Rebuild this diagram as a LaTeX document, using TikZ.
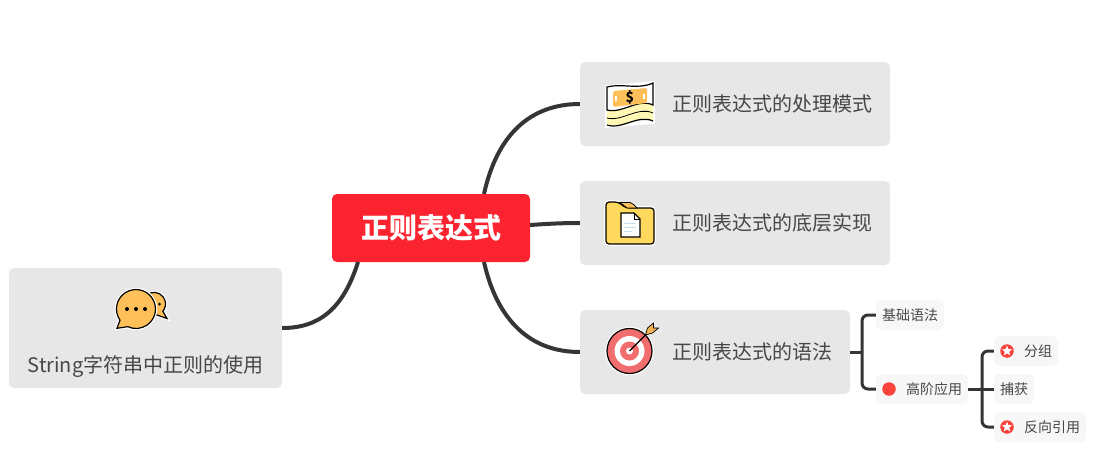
\documentclass[tikz,border=0pt]{standalone}
\usepackage{fontspec}
\setmainfont{Noto Sans CJK SC}
\usetikzlibrary{calc,positioning,shapes.geometric}
\definecolor{linegray}{HTML}{353535}
\definecolor{boxgray}{HTML}{E7E7E7}
\definecolor{subgray}{HTML}{F7F7F7}
\definecolor{rootred}{HTML}{FC2330}
\definecolor{dotred}{HTML}{FB423B}
\definecolor{billorange}{HTML}{FFC05A}
\definecolor{billyellow}{HTML}{FFF8B4}
\definecolor{folderyellow}{HTML}{FFD95E}
\definecolor{ringred}{HTML}{F26D6D}
\tikzset{%
	root/.style     = {fill=rootred, rounded corners=5pt, text=white, font=\fontsize{28}{32}\selectfont\bfseries, minimum width=198pt, minimum height=68pt, inner sep=0pt},
	mainbox/.style  = {fill=boxgray, rounded corners=5pt, text=black!72, font=\fontsize{20}{24}\selectfont, minimum height=84pt, inner sep=0pt},
	subbox/.style   = {fill=subgray, rounded corners=5pt, text=black!72, font=\fontsize{14}{17}\selectfont, minimum height=30pt, inner xsep=6pt, inner ysep=0pt},
	waypoint/.style = {coordinate},
	branch/.style   = {draw=linegray, line width=4pt},
	twig/.style     = {draw=linegray, line width=3pt, rounded corners=6pt},
	reddot/.style   = {circle, fill=dotred, minimum size=13.5pt, inner sep=0pt},
	whitestar/.style = {star, star points=5, star point ratio=2.2, fill=white, minimum size=10.5pt, inner sep=0pt},
	icon/.style     = {draw=black, line width=1.2pt, preaction={draw=white, line width=3.6pt}},
}
\begin{document}
\begin{tikzpicture}[x=1pt,y=-1pt,node distance=100pt]
	\useasboundingbox (0,0) rectangle (1116,455);
	\node [root] (rex) at (431,228) {正则表达式};
	\node [mainbox,minimum width=310pt] (mode) at (735,104) {\hspace*{74pt}正则表达式的处理模式};
	\node [mainbox,minimum width=310pt] (impl) [below of=mode,node distance=119pt] {\hspace*{74pt}正则表达式的底层实现};
	\node [mainbox,minimum width=270pt] (gram) at (715,352) {\hspace*{74pt}正则表达式的语法};
	\node [mainbox,minimum width=273pt,text height=104pt,text depth=16pt] (str) at (145.5,328) {String字符串中正则的使用};

	\node [waypoint] (hubgram) [right of=gram,node distance=147pt] {};
	\node [subbox] (basic) at (910,315) {基础语法};
	\node [subbox] (adv) at (922,389) {\hspace*{24pt}高阶应用};
	\node [waypoint] (hubadv) [right of=adv,node distance=60pt] {};
	\node [subbox] (group) at (1026,351) {\hspace*{24pt}分组};
	\node [subbox] (capt) at (1014,389) {捕获};
	\node [subbox] (back) at (1040,427) {\hspace*{24pt}反向引用};
	\node [reddot] (advdot) at (889,389) {};
	\node [reddot] (groupdot) at (1007,351) {};
	\node [whitestar] (groupstar) at (groupdot) {};
	\node [reddot] (backdot) at (1007,427) {};
	\node [whitestar] (backstar) at (backdot) {};

	\node [waypoint] (rexup) at (484,194) {};
	\node [waypoint] (rexright) at (530,225) {};
	\node [waypoint] (rexdown) at (484,262) {};
	\node [waypoint] (rexleft) at (358,262) {};

	\draw[branch] (rexup) .. controls (497,135) and (530,104) .. (mode.west);
	\draw[branch] (rexright) .. controls (545,224) and (560,223) .. (impl.west);
	\draw[branch] (rexdown) .. controls (497,320) and (530,352) .. (gram.west);
	\draw[branch] (rexleft) .. controls (343,310) and (318,328) .. (str.east);

	\draw[twig] (gram.east) -- (hubgram);
	\draw[twig] (hubgram) |- (basic.west);
	\draw[twig] (hubgram) |- (adv.west);
	\draw[twig] (adv.east) -- (hubadv);
	\draw[twig] (hubadv) |- (group.west);
	\draw[twig] (hubadv) -- (capt.west);
	\draw[twig] (hubadv) |- (back.west);

	% bill
	\begin{scope}[shift={(630,104)}]
	\path[draw=white,line width=3.6pt] (-23,-17) -- (23,-21) -- (23,18) -- (-23,22) -- cycle;
	\path[fill=billyellow] (-23,6) .. controls (-8,10) and (8,-6) .. (23,1) -- (23,17) .. controls (8,10) and (-8,26) .. (-23,21) -- cycle;
	\path[fill=white,draw=black,line width=1.2pt] (-23,-17) .. controls (-8,-21) and (8,-14) .. (23,-21) -- (23,1) .. controls (8,-6) and (-8,10) .. (-23,6) -- cycle;
	\fill[billorange,rounded corners=2pt] (-17,-13) -- (17,-16) -- (17,-1) -- (-17,3) -- cycle;
	\fill[white] (-15,-8) rectangle (-13,-3);
	\fill[white] (13,-10) rectangle (15,-5);
	\node[font=\fontsize{14}{14}\selectfont\bfseries,text=black,inner sep=0pt] (dollar) at (0,-6.5) {\$};
	\draw[black,line width=0.8pt] (-23,14) .. controls (-8,18) and (8,2) .. (23,9);
	\draw[black,line width=1.2pt] (-23,21) .. controls (-8,26) and (8,10) .. (23,17);
	\end{scope}

	% folder
	\begin{scope}[shift={(630,223)}]
	\path[icon,fill=folderyellow,rounded corners=3pt] (-24,-21) -- (-12,-21) -- (-4,-15) -- (24,-15) -- (24,21) -- (-24,21) -- cycle;
	\path[fill=billorange,draw=black,line width=0.8pt] (-10,-20.5) -- (0,-20.5) .. controls (3,-20) and (5,-17) .. (7,-15) -- (-3,-15) -- cycle;
	\path[draw=black,line width=1.2pt,fill=white] (-9,-10) -- (4,-10) -- (10,-4) -- (10,14) -- (-9,14) -- cycle;
	\draw[black,line width=0.8pt] (4,-10) -- (4,-4) -- (10,-4);
	\draw[black!25!cyan!25,line width=1pt] (-6,0) -- (6,0) (-6,4) -- (6,4) (-6,8) -- (2,8);
	\end{scope}

	% target
	\begin{scope}[shift={(629.5,351)}]
	\path[icon,fill=ringred] (0,0) circle (22.5);
	\fill[white] (0,0) circle (15);
	\fill[ringred] (0,0) circle (9.5);
	\fill[white] (0,0) circle (3.5);
	\draw[black,line width=1.2pt] (0,0) -- (18,-18);
	\fill[billorange!80!brown,draw=black,line width=0.7pt] (16,-16) -- (18,-23) -- (24,-28) -- (24,-23) -- (29,-23) -- (23,-18) -- cycle;
	\end{scope}

	% chat
	\begin{scope}[shift={(136,309)}]
	\path[icon,fill=billorange] (21,6) arc (75:400:11.5) -- (31,9.5) -- cycle;
	\fill[black] (23.5,-5) circle (1.5);
	\path[icon,fill=billorange] (-16,11.2) arc (145:475:19.5) -- (-19,19.3) -- cycle;
	\fill[black] (-9,0) circle (2) (0,0) circle (2) (9,0) circle (2);
	\end{scope}
\end{tikzpicture}
\end{document}
